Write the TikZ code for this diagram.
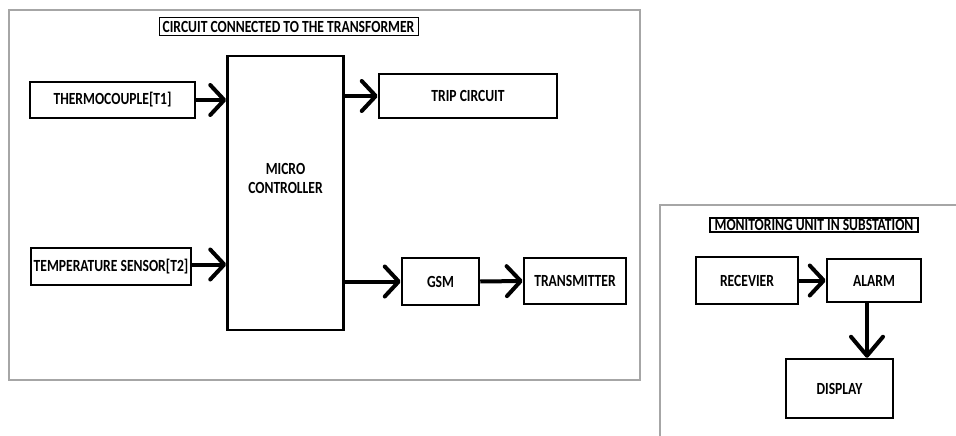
\documentclass[tikz,border=0pt]{standalone}
\usepackage{fontspec}
\setmainfont[FakeStretch=0.8]{Carlito}
\usetikzlibrary{arrows.meta}
\tikzset{
  blk/.style={draw=black, line width=2.5pt, inner sep=0pt, font=\fontsize{17}{19}\selectfont\bfseries, align=center},
  ttl/.style={draw=black, line width=1pt, inner sep=0pt, font=\fontsize{17}{19}\selectfont\bfseries},
  frm/.style={draw=black!35, line width=1.3pt},
  arr/.style={line width=4pt, -{Straight Barb[length=14pt,width=30pt,round]}},
  arrbig/.style={line width=4pt, -{Straight Barb[length=19pt,width=32pt,round]}}
}
\begin{document}
\begin{tikzpicture}[x=1pt,y=-1pt]
\useasboundingbox (0,0) rectangle (956,436);
\fill[white] (0,0) rectangle (956,436);
% frames
\draw[frm] (9,10) rectangle (640,380);
\draw[frm] (970,205) -- (660,205) -- (660,450);
% left panel
\node[ttl, minimum width=259pt, minimum height=18pt] (t1) at (288.5,27) {CIRCUIT CONNECTED TO THE TRANSFORMER};
\node[blk, minimum width=165pt, minimum height=36pt] (thermo) at (112.5,100) {THERMOCOUPLE[T1]};
\node[blk, minimum width=116pt, minimum height=274pt,
      label={[yshift=14.5pt, align=center, font=\fontsize{17}{19}\selectfont\bfseries]center:MICRO\\CONTROLLER}] (micro) at (285.5,193) {};
\node[blk, minimum width=178pt, minimum height=44pt] (trip) at (468,96) {TRIP CIRCUIT};
\node[blk, minimum width=160pt, minimum height=37pt] (temp) at (111,266.5) {TEMPERATURE SENSOR[T2]};
\node[blk, minimum width=77pt, minimum height=47pt] (gsm) at (440.5,281.5) {GSM};
\node[blk, minimum width=102pt, minimum height=46pt] (trans) at (575,281) {TRANSMITTER};
\draw[arr] (thermo.east) -- (thermo.east -| micro.west);
\draw[arr] (micro.east |- trip.west) -- (trip.west);
\draw[arr] ([yshift=2pt]temp.east) -- ([yshift=2pt]temp.east -| micro.west);
\draw[arr] (micro.east |- gsm.west) -- (gsm.west);
\draw[arr] (gsm.east) -- (trans.west);
% right panel
\node[ttl, line width=1.5pt, minimum width=208pt, minimum height=14pt] (t2) at (814,225) {MONITORING UNIT IN SUBSTATION};
\node[blk, minimum width=102pt, minimum height=47pt] (recv) at (747,280.5) {RECEVIER};
\node[blk, minimum width=94pt, minimum height=43pt] (alarm) at (874,280.5) {ALARM};
\node[blk, minimum width=107pt, minimum height=59pt] (disp) at (839.5,388.5) {DISPLAY};
\draw[arr] (recv.east) -- (alarm.west);
\draw[arrbig] ([xshift=-7pt]alarm.south) -- ([xshift=-7pt]alarm.south |- disp.north);
\end{tikzpicture}
\end{document}
